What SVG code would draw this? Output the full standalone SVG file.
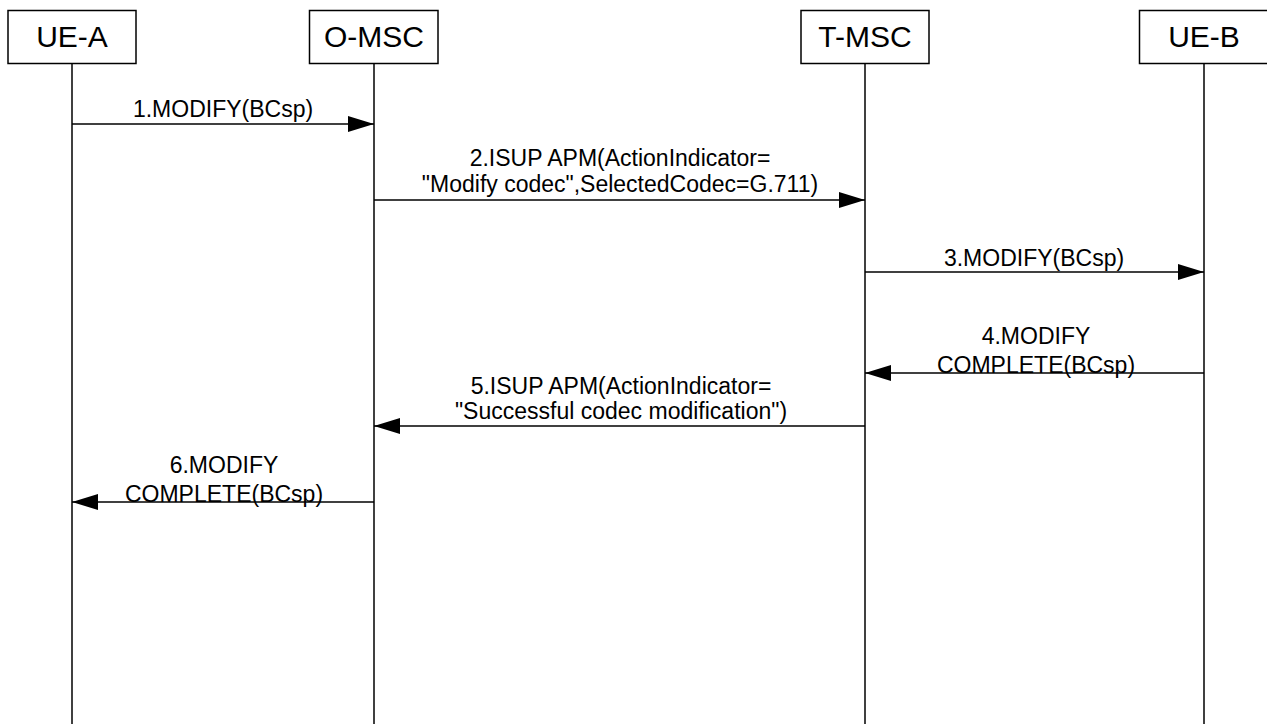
<svg xmlns="http://www.w3.org/2000/svg" width="1267" height="724" viewBox="0 0 1267 724">
<style>
.box{fill:#fff;stroke:#000;stroke-width:1.5}
.life{stroke:#000;stroke-width:1.5;fill:none}
.msg{stroke:#000;stroke-width:1.5;fill:none;marker-end:url(#ah)}
.hd{font-family:"Liberation Sans",Arial,sans-serif;font-size:30px;text-anchor:middle;fill:#000}
.lb{font-family:"Liberation Sans",Arial,sans-serif;font-size:23px;text-anchor:middle;fill:#000}
</style>
<defs>
<marker id="ah" markerUnits="userSpaceOnUse" markerWidth="26" markerHeight="16" refX="26" refY="8" orient="auto">
<path d="M0,0 L26,8 L0,16 Z" fill="#000"/>
</marker>
</defs>
<rect width="1267" height="724" fill="#fff"/>
<g id="UE-A">
<line class="life" x1="72" y1="63" x2="72" y2="724"/>
<rect class="box" x="8" y="10.5" width="128" height="53"/>
<text class="hd" x="72" y="47">UE-A</text>
</g>
<g id="O-MSC">
<line class="life" x1="374" y1="63" x2="374" y2="724"/>
<rect class="box" x="309.5" y="10.5" width="128.5" height="53"/>
<text class="hd" x="374" y="47">O-MSC</text>
</g>
<g id="T-MSC">
<line class="life" x1="865" y1="63" x2="865" y2="724"/>
<rect class="box" x="801" y="10.5" width="128" height="53"/>
<text class="hd" x="865" y="47">T-MSC</text>
</g>
<g id="UE-B">
<line class="life" x1="1204" y1="63" x2="1204" y2="724"/>
<rect class="box" x="1139.5" y="10.5" width="129" height="53"/>
<text class="hd" x="1204" y="47">UE-B</text>
</g>
<g id="connectors">
<line class="msg" x1="72" y1="124" x2="374" y2="124"/>
<text class="lb" x="223" y="117">1.MODIFY(BCsp)</text>
<line class="msg" x1="374" y1="200" x2="865" y2="200"/>
<text class="lb" x="620" y="166">2.ISUP APM(ActionIndicator=</text>
<text class="lb" x="620" y="192">"Modify codec",SelectedCodec=G.711)</text>
<line class="msg" x1="865" y1="272" x2="1204" y2="272"/>
<text class="lb" x="1034" y="266">3.MODIFY(BCsp)</text>
<line class="msg" x1="1204" y1="373" x2="865" y2="373"/>
<text class="lb" x="1036" y="344">4.MODIFY</text>
<text class="lb" x="1036" y="373">COMPLETE(BCsp)</text>
<line class="msg" x1="865" y1="426" x2="374" y2="426"/>
<text class="lb" x="621" y="394">5.ISUP APM(ActionIndicator=</text>
<text class="lb" x="621" y="419">"Successful codec modification")</text>
<line class="msg" x1="374" y1="502" x2="72" y2="502"/>
<text class="lb" x="224" y="473">6.MODIFY</text>
<text class="lb" x="224" y="502">COMPLETE(BCsp)</text>
</g>
</svg>
